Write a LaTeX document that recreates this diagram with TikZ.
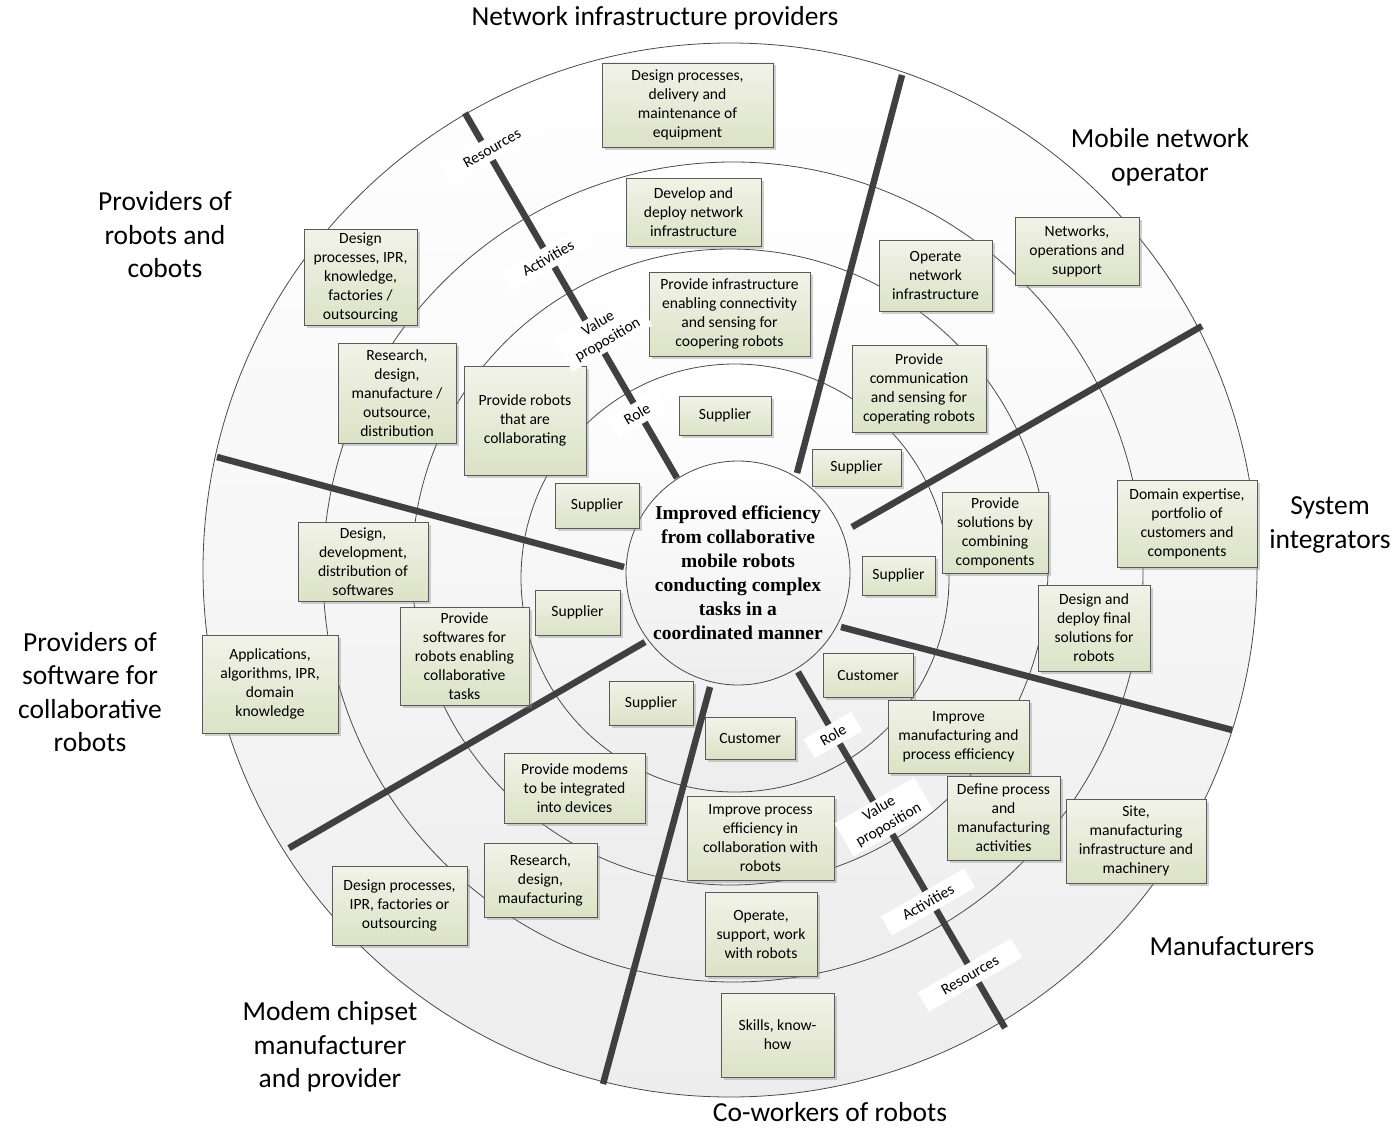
\documentclass[tikz,border=0pt]{standalone}
\usepackage{fontspec}
\setmainfont{Carlito}
\newfontfamily\serifbold{Liberation Serif}
\usetikzlibrary{shadows}
\definecolor{boxtop}{HTML}{F1F3E8}
\definecolor{boxbot}{HTML}{DCE2C6}
\definecolor{boxline}{HTML}{5A5A5A}
\definecolor{divline}{HTML}{404040}
\definecolor{ringline}{HTML}{4A4A4A}
\newcommand\mybox[6]{\node[box, minimum width={#4-#2}, minimum height={#5-#3}] (#1) at ({(#2+#4)/2},{(#3+#5)/2}) {#6};}
\begin{document}
\begin{tikzpicture}[x=1pt,y=-1pt,
  ring/.style={circle, draw=ringline, line width=0.8pt, top color=white, bottom color=black!7, inner sep=0pt},
  divider/.style={draw=divline, line width=6.5pt},
  box/.style={draw=boxline, line width=0.8pt, top color=boxtop, bottom color=boxbot, align=center,
    font=\fontsize{15.6}{19}\selectfont, inner sep=1pt,
    drop shadow={shadow xshift=2.5pt, shadow yshift=-2.5pt, fill=black!45, opacity=0.4}},
  actor/.style={align=center, font=\fontsize{27.5}{33.5}\selectfont, inner sep=0pt},
  ringlabel/.style={fill=white, rotate=30, align=center, font=\fontsize{15.5}{19}\selectfont, inner sep=0pt, minimum height=22},
  centre/.style={ring, minimum size=224, align=center, font=\serifbold\bfseries\fontsize{19.5}{24}\selectfont}
]
\useasboundingbox (0,0) rectangle (1399,1129);
\fill[white] (0,0) rectangle (1399,1129);

% rings
\node[ring, minimum size=1054] (outer) at (730,570) {};
\node[ring, minimum size=820] (activ) at (733,572) {};
\node[ring, minimum size=636] (valprop) at (730,567) {};
\node[ring, minimum size=428] (role) at (735,578) {};

% dividers
\coordinate (l1a) at (677,478);  \coordinate (l1b) at (465,113);
\coordinate (l2a) at (797,473);  \coordinate (l2b) at (902,75);
\coordinate (l3a) at (852,527);  \coordinate (l3b) at (1202,326);
\coordinate (l4a) at (841,627);  \coordinate (l4b) at (1232,730);
\coordinate (l5a) at (798,672);  \coordinate (l5b) at (1005,1028);
\coordinate (l6a) at (710,687);  \coordinate (l6b) at (603,1084);
\coordinate (l7a) at (645,642);  \coordinate (l7b) at (289,848);
\coordinate (l8a) at (624,567);  \coordinate (l8b) at (217,457);
\foreach \i in {1,...,8} {\draw[divider] (l\i a) -- (l\i b);}

% centre
\node[centre] (core) at (738,573) {Improved efficiency\\from collaborative\\mobile robots\\conducting complex\\tasks in a\\coordinated manner};

% boxes
\mybox{b1}{602}{63}{773}{147}{Design processes,\\delivery and\\maintenance of\\equipment}
\mybox{b2}{626}{178}{761}{246}{Develop and\\deploy network\\infrastructure}
\mybox{b3}{649}{272}{810}{356}{Provide infrastructure\\enabling connectivity\\and sensing for\\coopering robots}
\mybox{b4}{679}{396}{771}{435}{Supplier}
\mybox{b5}{879}{240}{992}{311}{Operate\\network\\infrastructure}
\mybox{b6}{1015}{217}{1139}{285}{Networks,\\operations and\\support}
\mybox{b7}{852}{345}{986}{432}{Provide\\communication\\and sensing for\\coperating robots}
\mybox{b8}{812}{449}{901}{486}{Supplier}
\mybox{b9}{942}{492}{1048}{573}{Provide\\solutions by\\combining\\components}
\mybox{b10}{1117}{480}{1257}{567}{Domain expertise,\\portfolio of\\customers and\\components}
\mybox{b11}{862}{556}{935}{595}{Supplier}
\mybox{b12}{1038}{585}{1150}{671}{Design and\\deploy final\\solutions for\\robots}
\mybox{b13}{823}{653}{913}{697}{Customer}
\mybox{b14}{888}{700}{1029}{773}{Improve\\manufacturing and\\process efficiency}
\mybox{b15}{947}{776}{1060}{860}{Define process\\and\\manufacturing\\activities}
\mybox{b16}{1066}{799}{1206}{883}{Site,\\manufacturing\\infrastructure and\\machinery}
\mybox{b17}{705}{717}{795}{759}{Customer}
\mybox{b18}{609}{681}{693}{725}{Supplier}
\mybox{b19}{687}{796}{834}{880}{Improve process\\efficiency in\\collaboration with\\robots}
\mybox{b20}{705}{892}{817}{976}{Operate,\\support, work\\with robots}
\mybox{b21}{721}{993}{834}{1077}{Skills, know-\\how}
\mybox{b22}{504}{753}{645}{823}{Provide modems\\to be integrated\\into devices}
\mybox{b23}{484}{843}{597}{917}{Research,\\design,\\maufacturing}
\mybox{b24}{332}{866}{467}{945}{Design processes,\\IPR, factories or\\outsourcing}
\mybox{b25}{202}{635}{338}{733}{Applications,\\algorithms, IPR,\\domain\\knowledge}
\mybox{b26}{400}{607}{529}{705}{Provide\\softwares for\\robots enabling\\collaborative\\tasks}
\mybox{b27}{535}{590}{620}{635}{Supplier}
\mybox{b28}{298}{522}{428}{601}{Design,\\development,\\distribution of\\softwares}
\mybox{b29}{555}{483}{639}{528}{Supplier}
\mybox{b30}{464}{366}{586}{475}{Provide robots\\that are\\collaborating}
\mybox{b31}{338}{343}{456}{443}{Research,\\design,\\manufacture /\\outsource,\\distribution}
\mybox{b32}{304}{229}{417}{325}{Design\\processes, IPR,\\knowledge,\\factories /\\outsourcing}

% ring labels (upper left)
\node[ringlabel, minimum width=108] (resA) at (492,148) {Resources};
\node[ringlabel, minimum width=96] (actA) at (548,258) {Activities};
\node[ringlabel, minimum width=92, minimum height=38] (vpA) at (603,332) {Value\\proposition};
\node[ringlabel, minimum width=55] (roleA) at (637,414) {Role};
% ring labels (lower right)
\node[ringlabel, minimum width=55] (roleB) at (833,735) {Role};
\node[ringlabel, minimum width=92, minimum height=38] (vpB) at (884,817) {Value\\proposition};
\node[ringlabel, minimum width=96] (actB) at (928,902) {Activities};
\node[ringlabel, minimum width=108] (resB) at (970,975) {Resources};

% actors
\node[actor] (nip) at (655,18) {Network infrastructure providers};
\node[actor] (mno) at (1160,157) {Mobile network\\operator};
\node[actor] (prc) at (165,235) {Providers of\\robots and\\cobots};
\node[actor] (si) at (1330,525) {System\\integrators};
\node[actor] (psw) at (90,692) {Providers of\\software for\\collaborative\\robots};
\node[actor] (man) at (1232,946) {Manufacturers};
\node[actor] (mcm) at (330,1047) {Modem chipset\\manufacturer\\and provider};
\node[actor] (cow) at (830,1112) {Co-workers of robots};
\end{tikzpicture}
\end{document}
